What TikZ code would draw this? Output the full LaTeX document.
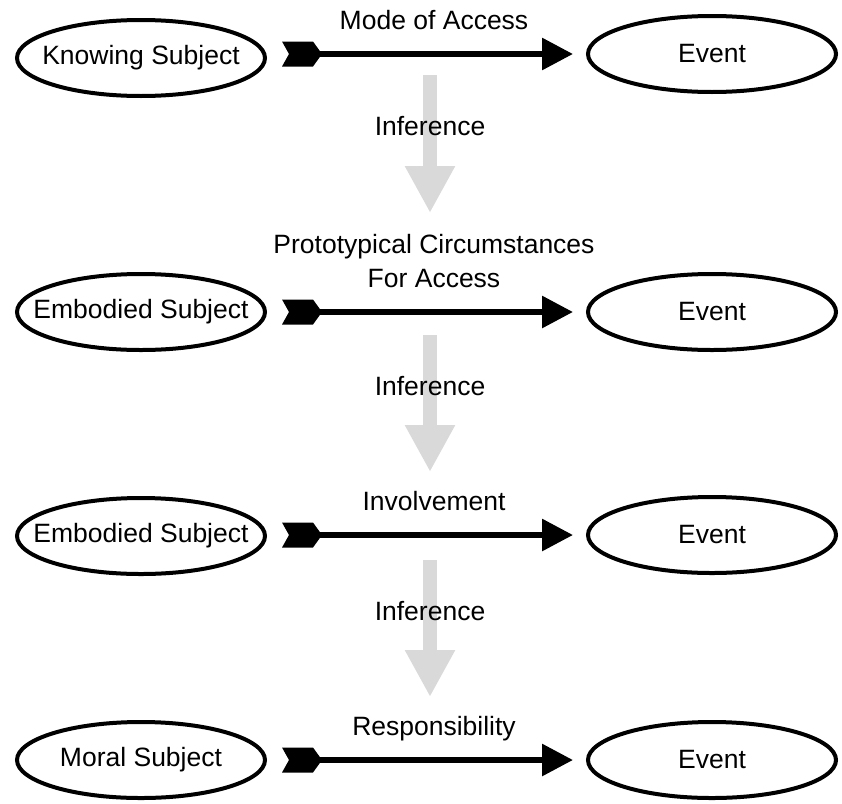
\documentclass[tikz,border=0pt]{standalone}
\usepackage{fontspec}
\setmainfont{Liberation Sans}
\usetikzlibrary{arrows.meta,shapes.geometric}

\begin{document}
\begin{tikzpicture}[x=1pt,y=-1pt,font=\fontsize{26.5}{34}\selectfont,
    subj/.style={ellipse,draw,line width=4pt,minimum width=248pt,minimum height=76pt,inner xsep=-30pt,inner ysep=0pt},
    link/.style={line width=6pt,-{Triangle[length=31pt,width=31pt]}},
    infer/.style={line width=14pt,black!15,-{Triangle[length=47pt,width=47pt]}},
    lbl/.style={anchor=base,yshift=25pt},
    fletch/.pic={\fill (-13,-12.5) -- (18,-12.5) -- (27,0) -- (18,12.5) -- (-13,12.5) -- (-6,0) -- cycle;}]
    \useasboundingbox (0,0) rectangle (842,803);

    \node[subj] (ks) at (141,58) {Knowing Subject};
    \node[subj] (ev1) at (712,54) {Event};
    \node[subj] (es1) at (141,312) {Embodied Subject};
    \node[subj] (ev2) at (712,312) {Event};
    \node[subj] (es2) at (141,536) {Embodied Subject};
    \node[subj] (ev3) at (712,535) {Event};
    \node[subj] (ms) at (141,760) {Moral Subject};
    \node[subj] (ev4) at (712,760) {Event};

    % inference arrows
    \coordinate (i1a) at (430,75);  \coordinate (i1b) at (430,213);
    \coordinate (i2a) at (430,335); \coordinate (i2b) at (430,472);
    \coordinate (i3a) at (430,560); \coordinate (i3b) at (430,697);
    \draw[infer] (i1a) -- (i1b) node[pos=0.37,text=black] (inf1) {Inference};
    \draw[infer] (i2a) -- (i2b) node[pos=0.37,text=black] (inf2) {Inference};
    \draw[infer] (i3a) -- (i3b) node[pos=0.37,text=black] (inf3) {Inference};

    \draw[link] ([xshift=28pt]ks.east |- ev1) coordinate (t1) -- ([xshift=-13pt]ev1.west)
        node[lbl,midway] (moa) {Mode of Access};
    \draw[link] ([xshift=28pt]es1.east) coordinate (t2) -- ([xshift=-13pt]ev2.west)
        node[midway,anchor=south,inner sep=0pt,yshift=21pt,align=center] (pca) {Prototypical Circumstances\\For Access};
    \draw[link] ([xshift=28pt]es2.east |- ev3) coordinate (t3) -- ([xshift=-13pt]ev3.west)
        node[lbl,midway] (inv) {Involvement};
    \draw[link] ([xshift=28pt]ms.east) coordinate (t4) -- ([xshift=-13pt]ev4.west)
        node[lbl,midway] (res) {Responsibility};
    \foreach \t in {t1,t2,t3,t4}
        \pic at (\t) {fletch};
\end{tikzpicture}
\end{document}
